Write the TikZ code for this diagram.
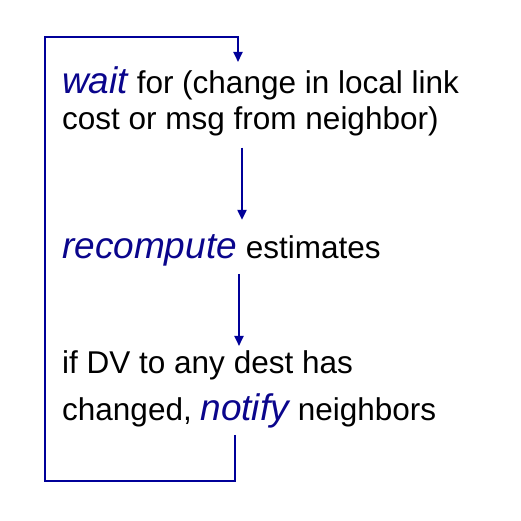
\documentclass[tikz,border=0pt]{standalone}
\usepackage{fontspec}
\setmainfont{Liberation Sans}
\usepackage{tikz}
\usetikzlibrary{arrows.meta,calc,positioning}

\begin{document}
\begin{tikzpicture}[
    x=1pt,y=-1pt,
    flow/.style={draw=loopblue,line width=2pt,-{Triangle[length=10pt,width=9pt]}},
    line/.style={anchor=base west,inner sep=0pt,font=\fontsize{31.5}{36}\selectfont}
  ]
  \colorlet{loopblue}{blue!60!black}
  \definecolor{keyword}{RGB}{10,5,140}
  \def\kw#1{{\fontsize{37}{36}\selectfont\itshape\textcolor{keyword}{#1}}}
  \useasboundingbox (0,0) rectangle (520,521);
  % the three steps
  \node [line] (wait1) at (62,94) {\kw{wait} for (change in local link};
  \node [line] (wait2) at (62,130) {cost or msg from neighbor)};
  \node [line] (recomp) at (62,258) {\kw{recompute} estimates};
  \node [line] (notify1) at (62,373) {if DV to any dest has};
  \node [line] (notify2) at (62,420) {changed, \kw{notify} neighbors};
  % arrows between them
  \coordinate (a1) at (242,0);
  \coordinate (a2) at (239,0);
  \coordinate (a3) at (235,0);
  \coordinate (a4) at (238,0);
  \coordinate (bl) at (45,481);
  \coordinate (tl) at (45,37);
  \draw [flow,shorten <=11pt,shorten >=14pt] (wait2.south -| a1) -- (recomp.north -| a1);
  \draw [flow,shorten <=8pt,shorten >=4pt] (recomp.south -| a2) -- (notify1.north -| a2);
  % back to the start
  \draw [flow,shorten <=7pt,shorten >=5pt] (notify2.south -| a3) |- (bl) -- (tl) -| (wait1.north -| a4);
\end{tikzpicture}
\end{document}
